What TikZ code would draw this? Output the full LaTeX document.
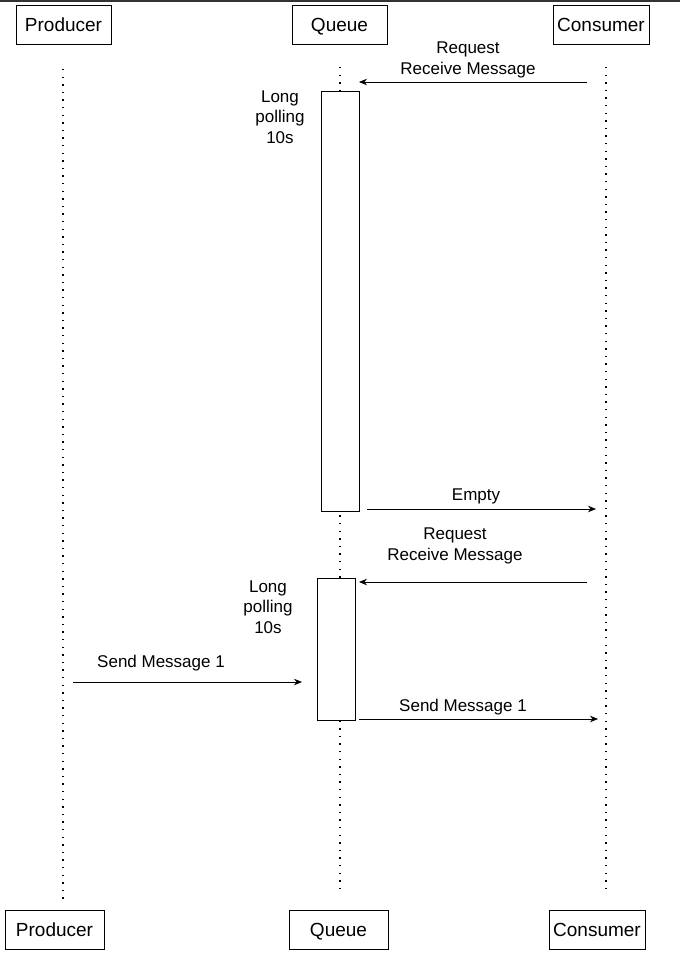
\documentclass[tikz,border=0pt]{standalone}
\usepackage{fontspec}
\setmainfont{Liberation Sans}
\usetikzlibrary{arrows.meta}
\begin{document}
\begin{tikzpicture}[x=1pt,y=-1pt,
  actor/.style={draw,line width=0.8pt,minimum height=39pt,inner sep=0pt,text height=16.5pt,text depth=3.5pt,font=\fontsize{19}{22}\selectfont},
  life/.style={line width=1.5pt,dash pattern=on 1.4pt off 6.2pt},
  act/.style={draw,line width=0.8pt,fill=white},
  msg/.style={line width=0.8pt,-{Stealth[length=8pt,width=6.5pt]}},
  lbl/.style={font=\fontsize{17}{20.5}\selectfont,align=center,inner sep=0pt}]
\useasboundingbox (0,0) rectangle (680,970);
\fill[white] (0,0) rectangle (680,970);
\draw[line width=2pt,black!80] (0,1) -- (680,1);
% actors
\node[actor,minimum width=95pt] (pt) at (63.5,24.5) {Producer};
\node[actor,minimum width=95pt] (qt) at (339.5,24.5) {Queue};
\node[actor,minimum width=96pt] (ct) at (601,24.5) {Consumer};
\node[actor,minimum width=99pt] (pb) at (54.5,929.5) {Producer};
\node[actor,minimum width=99pt] (qb) at (338.5,929.5) {Queue};
\node[actor,minimum width=96pt] (cb) at (597,929.5) {Consumer};
% lifelines
\coordinate (p0) at (63,69); \coordinate (p1) at (63,902);
\coordinate (q0) at (340,67); \coordinate (q1) at (340,892);
\coordinate (c0) at (606,67); \coordinate (c1) at (606,892);
\draw[life] (p0) -- (p1);
\draw[life] (q0) -- (q1);
\draw[life] (c0) -- (c1);
% activations
\node[act,minimum width=38pt,minimum height=420pt,inner sep=0pt] (a1) at (340,301) {};
\node[act,minimum width=38pt,minimum height=142pt,inner sep=0pt] (a2) at (336,649) {};
% labels
\node[lbl] (l1) at (280,117) {Long\\polling\\10s};
\node[lbl] (l2) at (268,607) {Long\\polling\\10s};
% messages
\coordinate (m1s) at (587,82); \coordinate (m1e) at (359,82);
\draw[msg] (m1s) -- (m1e);
\node[lbl] (t1) at (468,60) {Request\\Receive Message};
\coordinate (m2s) at (367,509); \coordinate (m2e) at (596,509);
\draw[msg] (m2s) -- (m2e);
\node[lbl] (t2) at (476,496) {Empty};
\coordinate (m3s) at (587,582); \coordinate (m3e) at (359,582);
\draw[msg] (m3s) -- (m3e);
\node[lbl] (t3) at (455,546) {Request\\Receive Message};
\coordinate (m4s) at (73,682); \coordinate (m4e) at (302,682);
\draw[msg] (m4s) -- (m4e);
\node[lbl] (t4) at (161,663) {Send Message 1};
\coordinate (m5s) at (359,719); \coordinate (m5e) at (598,719);
\draw[msg] (m5s) -- (m5e);
\node[lbl] (t5) at (463,707) {Send Message 1};
\end{tikzpicture}
\end{document}
